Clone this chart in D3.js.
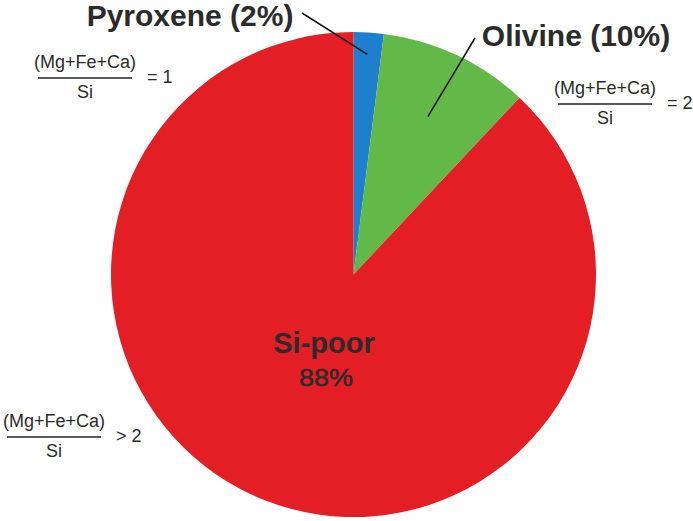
<!DOCTYPE html>
<html>
<head>
<meta charset="utf-8">
<script src="https://cdn.jsdelivr.net/npm/d3@7"></script>
<style>
  body { margin: 0; background: #fff; }
  text { font-family: "Liberation Sans", Arial, sans-serif; }
</style>
</head>
<body>
<div id="pie-chart"></div>
<script>
// slices, clockwise from 12 o'clock
var categories = ["Pyroxene", "Olivine", "Si-poor"];
var values = [2, 10, 88];
var colors = ["#1d7fcd", "#63b947", "#e31e25"];
// ratio (Mg+Fe+Ca)/Si next to each class
var ratioLabels = ["= 1", "= 2", "> 2"];

var width = 693, height = 521;
var cx = 353.5, cy = 274.5, radius = 242.5;

var svg = d3.select("#pie-chart")
  .append("svg")
    .attr("width", width)
    .attr("height", height);

var g = svg.append("g")
    .attr("transform", "translate(" + cx + "," + cy + ")");

var pie = d3.pie().sort(null).value(function(d) { return d.value; });
var arc = d3.arc().innerRadius(0).outerRadius(radius);

var data = categories.map(function(c, i) { return {name: c, value: values[i], color: colors[i]}; });
var arcs = pie(data);

g.selectAll("path.slice")
  .data(arcs)
  .enter()
  .append("path")
    .attr("class", "slice")
    .attr("d", arc)
    .attr("fill", function(d) { return d.data.color; });

// leader lines for the two small slices
var textColor = "#2b2b2b";
function pointOn(d, r) {
  var a = (d.startAngle + d.endAngle) / 2;
  return [Math.sin(a) * r, -Math.cos(a) * r];
}
var leaders = [
  {slice: arcs[0], r: 0.91, to: [302 - cx, 13 - cy], text: [190, 26]},
  {slice: arcs[1], r: 0.72, to: [475 - cx, 38 - cy], text: [576, 46]}
];
leaders.forEach(function(l) {
  var p = pointOn(l.slice, radius * l.r);
  g.append("line")
    .attr("x1", p[0]).attr("y1", p[1])
    .attr("x2", l.to[0]).attr("y2", l.to[1])
    .attr("stroke", "#111")
    .attr("stroke-width", 1.5);
  svg.append("text")
    .attr("x", l.text[0]).attr("y", l.text[1])
    .attr("text-anchor", "middle")
    .attr("font-size", 30)
    .attr("font-weight", "bold")
    .attr("fill", textColor)
    .text(l.slice.data.name + " (" + l.slice.data.value + "%)");
});

// label inside the big slice
svg.append("text")
  .attr("x", 324).attr("y", 353)
  .attr("text-anchor", "middle")
  .attr("font-size", 29)
  .attr("font-weight", "bold")
  .attr("fill", textColor)
  .text(categories[2]);
svg.append("text")
  .attr("x", 326).attr("y", 386)
  .attr("text-anchor", "middle")
  .attr("font-size", 23)
  .attr("textLength", 54)
  .attr("lengthAdjust", "spacingAndGlyphs")
  .attr("fill", textColor)
  .attr("stroke", textColor)
  .attr("stroke-width", 0.5)
  .text(values[2] + "%");

// fraction labels
var fracPos = [[85, 68], [605, 94], [54, 427]];
fracPos.forEach(function(p, i) {
  var f = svg.append("g").attr("transform", "translate(" + p[0] + "," + p[1] + ")");
  f.append("text")
    .attr("text-anchor", "middle")
    .attr("font-size", 18)
    .attr("fill", textColor)
    .text("(Mg+Fe+Ca)");
  f.append("line")
    .attr("x1", -47).attr("x2", 47)
    .attr("y1", 10).attr("y2", 10)
    .attr("stroke", "#222")
    .attr("stroke-width", 1.6);
  f.append("text")
    .attr("y", 30)
    .attr("text-anchor", "middle")
    .attr("font-size", 18)
    .attr("fill", textColor)
    .text("Si");
  f.append("text")
    .attr("x", 62).attr("y", 15)
    .attr("font-size", 18)
    .attr("fill", textColor)
    .text(ratioLabels[i]);
});
</script>
</body>
</html>
